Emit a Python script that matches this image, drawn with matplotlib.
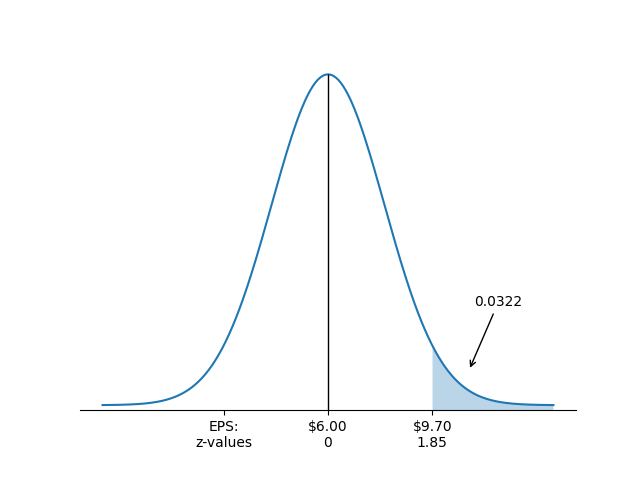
import numpy as np
import matplotlib
matplotlib.use('Agg')
import matplotlib.pyplot as plt

# z range and cutoff
z_min, z_max = -4, 4
z_cut = 1.85
tail_prob = '0.0322'
base = -0.0063  # where the axis line sits under the curve

tick_pos = [-1.85, 0, 1.85]
tick_labels = ['EPS:\nz-values', '$6.00\n0', '$9.70\n1.85']

# standard normal curve
z = np.linspace(z_min, z_max, 400)
pdf = np.exp(-z ** 2 / 2) / np.sqrt(2 * np.pi)

fig, ax = plt.subplots(figsize=(6.4, 4.8), dpi=100)
ax.plot(z, pdf)

# shaded right tail
mask = z >= z_cut
ax.fill_between(z[mask], pdf[mask], base, alpha=0.3)

# line at the mean
ax.vlines(0, base, pdf.max(), color='black', linewidth=1)

ax.annotate(tail_prob, xy=(2.5, 0.042), xytext=(2.6, 0.12),
            arrowprops=dict(arrowstyle='->', color='black'))

ax.spines['left'].set_visible(False)
ax.spines['right'].set_visible(False)
ax.spines['top'].set_visible(False)
ax.spines['bottom'].set_position(('data', base))
ax.set_yticks([])
ax.set_xticks(tick_pos)
ax.set_xticklabels(tick_labels)

plt.savefig('out.png')
